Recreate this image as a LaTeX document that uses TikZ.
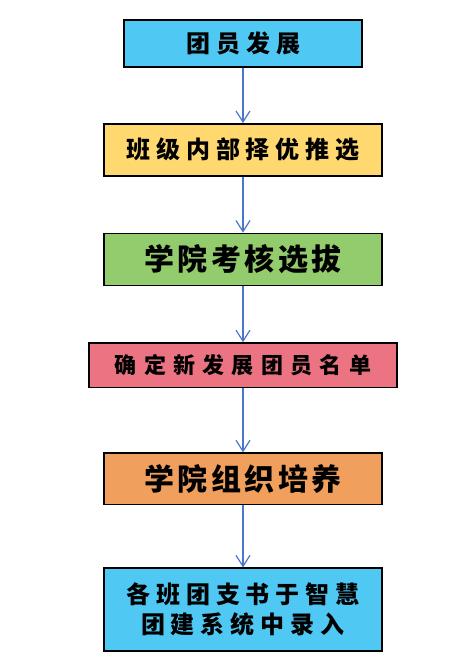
\documentclass[tikz,border=0pt]{standalone}
\usepackage{fontspec}
\usepackage{tikz}
\usetikzlibrary{arrows.meta, positioning}
\usepackage{xcolor}

\newfontfamily\cjkbig[LetterSpace=12]{Noto Sans CJK SC}
\newfontfamily\cjkmid[LetterSpace=25]{Noto Sans CJK SC}
\newfontfamily\cjksmall[LetterSpace=33]{Noto Sans CJK SC}

\definecolor{boxblue}{HTML}{4FC8F4}
\definecolor{boxyellow}{HTML}{FFD970}
\definecolor{boxgreen}{HTML}{92CC6C}
\definecolor{boxpink}{HTML}{EC7482}
\definecolor{boxorange}{HTML}{F0A05C}
\definecolor{arrowblue}{HTML}{4A76D0}

\begin{document}
\begin{tikzpicture}[
    x=1pt, y=1pt,
    node distance=55pt,
    every node/.style={align=center}
]
    % Define styles
    \tikzstyle{stepbox} = [rectangle, draw=black, line width=1.6pt, inner sep=0pt, minimum width=278pt, minimum height=52pt, text centered]
    \tikzstyle{midtext} = [font=\cjkmid\bfseries\fontsize{24}{30}\selectfont]
    \tikzstyle{bigtext} = [font=\cjkbig\bfseries\fontsize{30}{34}\selectfont]
    \tikzstyle{smalltext} = [font=\cjksmall\bfseries\fontsize{22}{30}\selectfont]
    \tikzstyle{arrow} = [draw=arrowblue, line width=1.2pt, -{Straight Barb[length=11pt, width=14pt, line width=1.2pt]}]

    \useasboundingbox (0,0) rectangle (471,-665);

    % Steps from top to bottom
    \node [stepbox, midtext, fill=boxblue, minimum width=238pt, minimum height=47.5pt] (develop) at (243,-43.5) {团员发展};
    \node [stepbox, midtext, fill=boxyellow, below=55pt of develop] (recommend) {班级内部择优推选};
    \node [stepbox, bigtext, fill=boxgreen, below=56pt of recommend] (assess) {学院考核选拔};
    \node [stepbox, smalltext, fill=boxpink, minimum width=308pt, minimum height=44.5pt, below=56pt of assess] (namelist) {确定新发展团员名单};
    \node [stepbox, bigtext, fill=boxorange, minimum height=51.5pt, below=64pt of namelist] (train) {学院组织培养};
    \node [stepbox, midtext, fill=boxblue, minimum height=82.5pt, below=62pt of train] (record) {各班团支书于智慧\\团建系统中录入};

    % Arrows between steps
    \draw [arrow] (develop) -- (recommend);
    \draw [arrow] (recommend) -- (assess);
    \draw [arrow] (assess) -- (namelist);
    \draw [arrow] (namelist) -- (train);
    \draw [arrow] (train) -- (record);

\end{tikzpicture}
\end{document}
